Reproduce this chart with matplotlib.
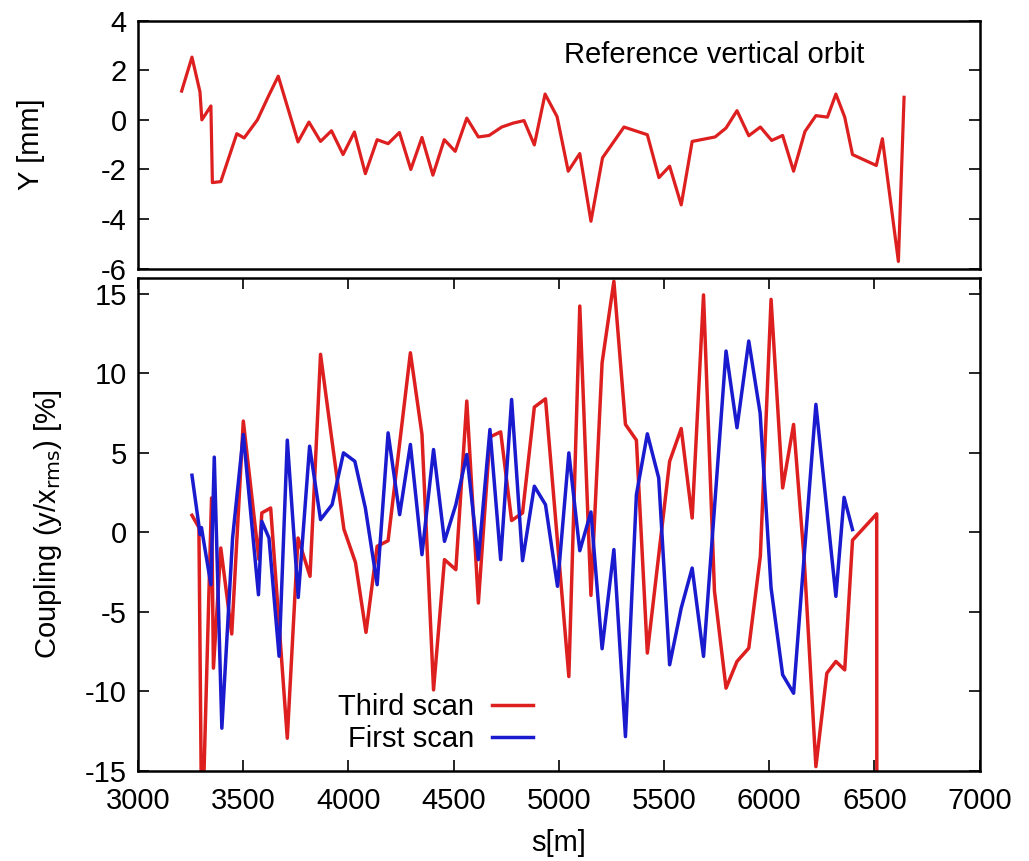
import matplotlib
matplotlib.use("Agg")
import matplotlib.pyplot as plt

plt.rcParams['font.family'] = ['Liberation Sans', 'DejaVu Sans']
plt.rcParams['axes.unicode_minus'] = False

# reference vertical orbit
orbit_s = [3208, 3257, 3295, 3304, 3347, 3354, 3394, 3470, 3505, 3568, 3623, 3667,
           3761, 3813, 3868, 3920, 3975, 4029, 4081, 4137, 4189, 4243, 4297, 4350,
           4402, 4456, 4508, 4563, 4618, 4669, 4729, 4784, 4835, 4884, 4935, 4992,
           5045, 5100, 5153, 5208, 5310, 5421, 5476, 5527, 5582, 5634, 5743, 5795,
           5847, 5903, 5958, 6012, 6064, 6116, 6170, 6222, 6277, 6317, 6359, 6396,
           6509, 6538, 6614, 6641]
orbit_y = [1.16, 2.53, 1.13, 0.0, 0.56, -2.53, -2.49, -0.56, -0.73, 0.0, 1.0, 1.76,
           -0.89, -0.09, -0.87, -0.44, -1.4, -0.49, -2.17, -0.8, -0.96, -0.51, -2.0, -0.71,
           -2.23, -0.8, -1.27, 0.07, -0.69, -0.63, -0.29, -0.13, -0.03, -1.01, 1.04, 0.13,
           -2.07, -1.36, -4.09, -1.53, -0.29, -0.6, -2.33, -1.87, -3.43, -0.87, -0.69, -0.33,
           0.37, -0.64, -0.29, -0.83, -0.63, -2.07, -0.47, 0.17, 0.11, 1.04, 0.11, -1.4,
           -1.84, -0.76, -5.71, 0.91]

# coupling, third scan
third_s = [3257, 3290, 3304, 3350, 3359, 3394, 3446, 3501, 3575, 3589, 3631, 3710,
           3761, 3818, 3868, 3920, 3979, 4034, 4084, 4137, 4189, 4295, 4350, 4405,
           4457, 4511, 4563, 4618, 4673, 4724, 4776, 4828, 4884, 4937, 5048, 5100,
           5153, 5206, 5262, 5317, 5369, 5421, 5527, 5582, 5634, 5688, 5740, 5795,
           5847, 5903, 5958, 6009, 6064, 6116, 6167, 6222, 6274, 6317, 6359, 6396,
           6511, 6512]
third_y = [1.07, 0.3, -20, 2.16, -8.55, -0.99, -6.4, 7.0, -1.7, 1.22, 1.53, -12.96,
           -0.36, -2.77, 11.2, 6.0, 0.2, -1.9, -6.3, -0.88, -0.53, 11.3, 6.16, -9.92,
           -1.72, -2.35, 8.26, -4.45, 6.0, 6.32, 0.74, 1.22, 7.88, 8.4, -9.08, 14.24,
           -3.97, 10.67, 15.8, 6.79, 5.8, -7.6, 4.47, 6.53, 0.9, 14.94, -3.7, -9.81,
           -8.13, -7.29, -1.5, 14.66, 2.79, 6.79, -1.83, -14.75, -8.87, -8.13, -8.66, -0.5,
           1.16, -30]

# coupling, first scan
first_s = [3257, 3296, 3302, 3347, 3363, 3399, 3450, 3501, 3573, 3589, 3623, 3671,
           3710, 3762, 3816, 3868, 3923, 3977, 4031, 4081, 4137, 4189, 4244, 4295,
           4350, 4405, 4457, 4511, 4563, 4618, 4673, 4724, 4776, 4828, 4884, 4937,
           4994, 5048, 5100, 5153, 5206, 5262, 5317, 5369, 5421, 5475, 5527, 5582,
           5634, 5688, 5795, 5847, 5903, 5957, 6009, 6064, 6116, 6222, 6317, 6356, 6396]
first_y = [3.59, -0.15, 0.3, -3.3, 4.73, -12.33, -0.36, 6.16, -3.93, 0.69, -0.36, -7.8,
           5.8, -4.1, 5.42, 0.8, 1.74, 5.0, 4.47, 1.53, -3.3, 6.26, 1.11, 5.53,
           -1.41, 5.21, -0.57, 1.74, 4.9, -1.72, 6.47, -1.72, 8.36, -1.79, 2.9, 1.74,
           -3.4, 5.0, -1.16, 1.28, -7.33, -1.09, -12.86, 2.37, 6.2, 3.42, -8.34, -4.77,
           -2.25, -7.81, 11.41, 6.58, 12.04, 7.5, -3.5, -8.97, -10.13, 8.05, -4.03, 2.2, 0.17]

red = '#dd1f1f'
blue = '#1a1acf'
fs = 21

fig = plt.figure(figsize=(10.29, 8.61), dpi=100)
ax1 = fig.add_axes([0.134, 0.688, 0.818, 0.288])
ax2 = fig.add_axes([0.134, 0.105, 0.818, 0.572])

ax1.plot(orbit_s, orbit_y, color=red, lw=2.3)
ax1.set_xlim(3000, 7000)
ax1.set_ylim(-6, 4)
ax1.set_yticks([-6, -4, -2, 0, 2, 4])
ax1.set_xticks([])
ax1.set_ylabel('Y [mm]', fontsize=fs, labelpad=40)
ax1.text(0.506, 0.86, 'Reference vertical orbit', transform=ax1.transAxes,
         fontsize=fs, va='center', ha='left')

ax2.plot(third_s, third_y, color=red, lw=2.5, label='Third scan')
ax2.plot(first_s, first_y, color=blue, lw=2.5, label='First scan')
ax2.set_xlim(3000, 7000)
ax2.set_ylim(-15, 16)
ax2.set_yticks([-15, -10, -5, 0, 5, 10, 15])
ax2.set_xticks(range(3000, 7001, 500))
ax2.set_xlabel('s[m]', fontsize=fs, labelpad=10)
ax2.set_ylabel(r'Coupling (y/x$_{\mathrm{rms}}$) [%]', fontsize=fs, labelpad=15)
ax2.legend(loc='lower right', bbox_to_anchor=(0.49, 0.0), frameon=False,
           markerfirst=False, fontsize=fs, handlelength=1.4, handletextpad=0.6,
           labelspacing=0.15, borderaxespad=0.2)

for ax in (ax1, ax2):
    ax.tick_params(direction='in', length=8, width=1.2, labelsize=fs,
                   top=True, right=True, pad=8)
    for sp in ax.spines.values():
        sp.set_linewidth(1.8)
ax1.tick_params(top=False, bottom=False)
ax2.tick_params(axis='x', pad=12)

fig.savefig('out.png', dpi=100)
